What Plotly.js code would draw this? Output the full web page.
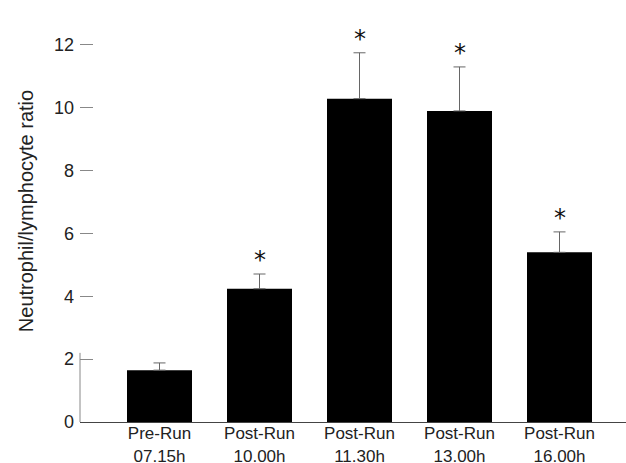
<!DOCTYPE html>
<html><head><meta charset="utf-8">
<script src="https://cdn.plot.ly/plotly-3.0.1.min.js"></script>
<style>html,body{margin:0;padding:0;background:#fff;}#chart{width:626px;height:463px;}</style>
</head><body><div id="chart"></div>
<script>
const categories = ["Pre-Run<br>07.15h", "Post-Run<br>10.00h", "Post-Run<br>11.30h", "Post-Run<br>13.00h", "Post-Run<br>16.00h"];
const ratioMean = [1.65, 4.24, 10.29, 9.9, 5.4];
const ratioSE = [0.23, 0.47, 1.46, 1.4, 0.65];
const significant = [false, true, true, true, true];
const yTicks = [0, 2, 4, 6, 8, 10, 12];

const trace = {
  type: 'bar',
  x: categories,
  y: ratioMean,
  width: 0.65,
  marker: {color: '#000000', line: {width: 0}},
  error_y: {type: 'data', symmetric: false, array: ratioSE, arrayminus: ratioSE.map(() => 0),
            color: '#666666', thickness: 1, width: 6},
  hoverinfo: 'none'
};

const annotations = [];
categories.forEach((c, i) => {
  if (significant[i]) {
    annotations.push({x: c, y: ratioMean[i] + ratioSE[i], xref: 'x', yref: 'y', text: '*',
      showarrow: false, yanchor: 'bottom', yshift: -2,
      font: {family: 'DejaVu Sans, sans-serif', size: 24, color: '#111'}});
  }
});

const layout = {
  width: 626, height: 463,
  margin: {l: 80, r: 0, t: 0, b: 41},
  paper_bgcolor: '#fff', plot_bgcolor: '#fff',
  showlegend: false,
  font: {family: 'Liberation Sans, Arial, sans-serif', color: '#222', size: 18},
  xaxis: {range: [-0.795, 4.665], showline: true, linecolor: '#444', linewidth: 1,
          ticks: '', showgrid: false, zeroline: false, tickfont: {size: 17, color: '#222'},
          ticklabelstandoff: -4, fixedrange: true},
  yaxis: {range: [0, 13.43], tickvals: yTicks, ticktext: yTicks.map(String), showline: false,
          ticks: 'inside', ticklen: 13, tickcolor: '#888', tickwidth: 1, showgrid: false, zeroline: false,
          tickfont: {size: 18, color: '#222'}, ticklabelstandoff: 5,
          title: {text: 'Neutrophil/lymphocyte ratio', font: {size: 20, color: '#222'}, standoff: 14}, fixedrange: true},
  shapes: [{type: 'line', xref: 'paper', yref: 'y', x0: 0, x1: 0, y0: 0, y1: 2.2,
            line: {color: '#888', width: 1}}],
  annotations: annotations
};

Plotly.newPlot('chart', [trace], layout, {displayModeBar: false, staticPlot: true});
</script></body></html>
